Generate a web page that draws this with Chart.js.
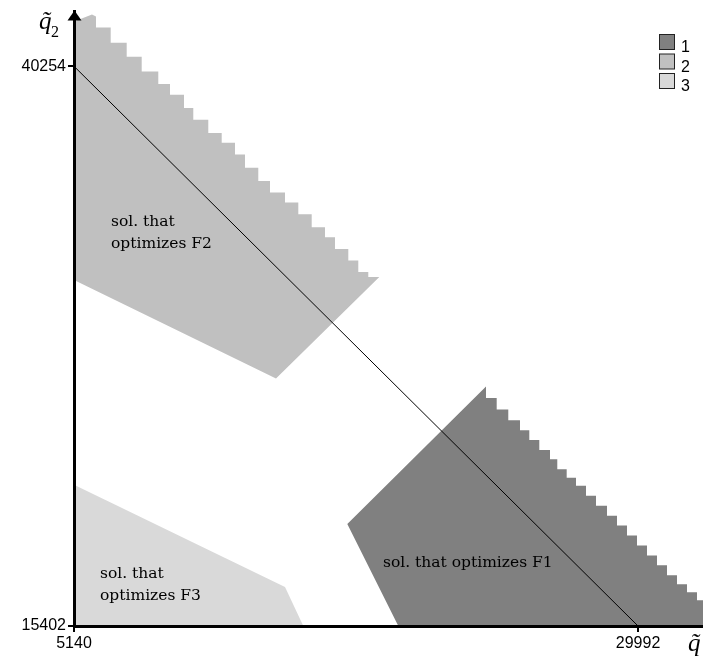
<!DOCTYPE html>
<html>
<head>
<meta charset="utf-8">
<script src="https://cdn.jsdelivr.net/npm/chart.js@4/dist/chart.umd.min.js"></script>
<style>
  html, body { margin: 0; padding: 0; background: #fff; }
  #wrap { width: 703px; height: 661px; }
</style>
</head>
<body>
<div id="wrap"><canvas id="myChart" width="703" height="661"></canvas></div>
<script>
const xTicks = [5140, 29992];
const yTicks = [15402, 40254];
const regionLabels = ["1", "2", "3"];
const regionColors = ["#808080", "#c0c0c0", "#d9d9d9"];

// the straight line between the two extreme points
const lineX = [5140, 29992];
const lineY = [40254, 15402];

// region 1 - sol. that optimizes F1
const r1StartX = [19429, 17182];
const r1StartY = [15402, 19935];
const r1DropX = [23293, 23764, 24275, 24790, 25201, 25641, 26113, 26434, 26848, 27258, 27699, 28139,
    28624, 29065, 29505, 29946, 30386, 30827, 31268, 31708, 32149, 32589, 33030];
const r1Levels = [26040, 25523, 25011, 24539, 24098, 23656, 23215, 22804, 22363, 21979, 21626, 21184,
    20743, 20302, 19860, 19419, 18977, 18536, 18095, 17653, 17256, 16903, 16550, 16197];
const r1EndX = [33300, 33300];
const r1EndY = [16197, 15402];

// region 2 - sol. that optimizes F2
const r2StartX = [5140, 5140, 5933];
const r2StartY = [30763, 42239, 42548];
const r2DropX = [6109, 6757, 7462, 8123, 8854, 9370, 9987, 10396, 11057, 11648, 12234, 12674,
    13260, 13776, 14437, 15023, 15613, 16199, 16640, 17226, 17666, 18107];
const r2Levels = [42460, 41974, 41299, 40681, 40019, 39472, 38986, 38399, 37883, 37295, 36854, 36338,
    35751, 35163, 34647, 34206, 33689, 33102, 32661, 32144, 31632, 31116, 30895];
const r2EndX = [18592, 14040];
const r2EndY = [30895, 26393];

// region 3 - sol. that optimizes F3
const r3X = [5140, 5140, 14437, 15243];
const r3Y = [15402, 21670, 17137, 15402];

const notes = [
    {text: "sol. that", x: 6770, y: 33146},
    {text: "optimizes F2", x: 6770, y: 32175},
    {text: "sol. that optimizes F1", x: 18755, y: 18006},
    {text: "sol. that", x: 6286, y: 17521},
    {text: "optimizes F3", x: 6286, y: 16550}
];

function toPoints(xs, ys) {
    let pts = [];
    for (let i = 0; i < xs.length; i++) {
        pts.push({x: xs[i], y: ys[i]});
    }
    return pts;
}

function stairs(dropX, levels) {
    let pts = [];
    for (let i = 0; i < dropX.length; i++) {
        pts.push({x: dropX[i], y: levels[i]});
        pts.push({x: dropX[i], y: levels[i + 1]});
    }
    return pts;
}

const region1 = toPoints(r1StartX, r1StartY).concat(stairs(r1DropX, r1Levels), toPoints(r1EndX, r1EndY));
const region2 = toPoints(r2StartX, r2StartY).concat(stairs(r2DropX, r2Levels), toPoints(r2EndX, r2EndY));
const region3 = toPoints(r3X, r3Y);

const extras = {
    id: "extras",
    afterDraw(chart) {
        const {ctx, chartArea, scales} = chart;
        const ax = scales.x.getPixelForValue(xTicks[0]);
        ctx.save();
        // arrow at the top of the vertical axis
        ctx.fillStyle = "#000";
        ctx.beginPath();
        ctx.moveTo(ax + 0.5, chartArea.top - 1);
        ctx.lineTo(ax - 6.5, chartArea.top + 9);
        ctx.lineTo(ax + 7.5, chartArea.top + 9);
        ctx.closePath();
        ctx.fill();

        // labels inside the regions
        ctx.font = "15.5px 'DejaVu Serif'";
        ctx.textBaseline = "alphabetic";
        ctx.textAlign = "left";
        notes.forEach(n => {
            ctx.fillText(n.text, scales.x.getPixelForValue(n.x), scales.y.getPixelForValue(n.y));
        });

        // axis names
        ctx.font = "italic 25px 'Liberation Serif'";
        ctx.fillText("q\u0303", 39, 29);
        ctx.fillText("q\u0303", 688, 651);
        ctx.font = "16px 'Liberation Serif'";
        ctx.fillText("2", 51, 37);

        // legend
        ctx.font = "16px 'Liberation Sans'";
        ctx.lineWidth = 1;
        ctx.strokeStyle = "#222";
        for (let i = 0; i < regionLabels.length; i++) {
            const top = 34 + i * 19.5;
            ctx.fillStyle = regionColors[i];
            ctx.fillRect(659.5, top + 0.5, 15, 15);
            ctx.strokeRect(659.5, top + 0.5, 15, 15);
            ctx.fillStyle = "#000";
            ctx.fillText(regionLabels[i], 681, top + 18);
        }
        ctx.restore();
    }
};

Chart.defaults.font.family = "'Liberation Sans', Arial, sans-serif";
Chart.defaults.color = "#000";

new Chart("myChart", {
    type: "scatter",
    data: {
        datasets: [{
            data: toPoints(lineX, lineY),
            showLine: true,
            borderColor: "#000",
            borderWidth: 1,
            pointRadius: 0,
            fill: false
        }, {
            label: regionLabels[0],
            data: region1,
            showLine: true,
            borderWidth: 0,
            borderColor: regionColors[0],
            backgroundColor: regionColors[0],
            pointRadius: 0,
            fill: "shape"
        }, {
            label: regionLabels[1],
            data: region2,
            showLine: true,
            borderWidth: 0,
            borderColor: regionColors[1],
            backgroundColor: regionColors[1],
            pointRadius: 0,
            fill: "shape"
        }, {
            label: regionLabels[2],
            data: region3,
            showLine: true,
            borderWidth: 0,
            borderColor: regionColors[2],
            backgroundColor: regionColors[2],
            pointRadius: 0,
            fill: "shape"
        }]
    },
    options: {
        responsive: false,
        animation: false,
        events: [],
        layout: {padding: {top: 8, right: 0, left: 0, bottom: 0}},
        plugins: {
            legend: {display: false},
            tooltip: {enabled: false}
        },
        scales: {
            x: {
                type: "linear",
                position: "bottom",
                min: 5140,
                max: 32854,
                afterFit: (scale) => { scale.height = 35; },
                afterBuildTicks: (scale) => { scale.ticks = xTicks.map(v => ({value: v})); },
                grid: {display: true, drawOnChartArea: false, drawTicks: true, tickLength: 6, color: "#000", lineWidth: 2, z: 1},
                border: {display: true, color: "#000", width: 3, z: 1},
                ticks: {font: {size: 16}, color: "#000", padding: 2, maxRotation: 0, autoSkip: false, z: 1,
                    callback: (v) => String(v)}
            },
            y: {
                type: "linear",
                position: "left",
                min: 15402,
                max: 42681,
                afterFit: (scale) => { scale.width = 74; },
                afterBuildTicks: (scale) => { scale.ticks = yTicks.map(v => ({value: v})); },
                grid: {display: true, drawOnChartArea: false, drawTicks: true, tickLength: 6, color: "#000", lineWidth: 2, z: 1},
                border: {display: true, color: "#000", width: 3, z: 1},
                ticks: {font: {size: 16}, color: "#000", padding: 2, autoSkip: false, z: 1,
                    callback: (v) => String(v)}
            }
        }
    },
    plugins: [extras]
});
</script>
</body>
</html>
